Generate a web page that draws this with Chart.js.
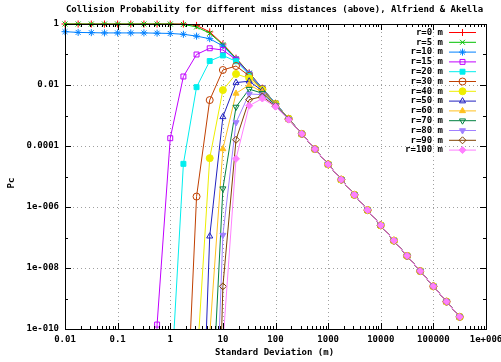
<!DOCTYPE html>
<html>
<head>
<meta charset="utf-8">
<script src="https://cdn.jsdelivr.net/npm/chart.js@4.4.1/dist/chart.umd.min.js"></script>
<style>
  html, body { margin: 0; padding: 0; background: #fff; }
  canvas { display: block; }
</style>
</head>
<body>
<canvas id="pcChart" width="501" height="362"></canvas>
<script>
// standard deviation (m), quarter-decade steps
const sigma = [0.01, 0.01778, 0.03162, 0.05623, 0.1, 0.1778, 0.3162, 0.5623, 1, 1.778,
  3.162, 5.623, 10, 17.78, 31.62, 56.23, 100, 177.8, 316.2, 562.3,
  1000, 1778, 3162, 5623, 10000, 17783, 31623, 56234, 100000, 177828, 316228];

const seriesLabels = ["r=0 m", "r=5 m", "r=10 m", "r=15 m", "r=20 m", "r=30 m", "r=40 m",
  "r=50 m", "r=60 m", "r=70 m", "r=80 m", "r=90 m", "r=100 m"];

// collision probability per miss distance (null = not plotted)
const pcR0 = [1, 1, 1, 1, 1, 1, 1, 1, 1, 1, 0.9, 0.55, 0.22, 0.076, 0.025, 0.0079, 0.0025, 7.9e-4,
  2.5e-4, 7.9e-5, 2.5e-5, 7.9e-6, 2.5e-6, 7.9e-7, 2.5e-7, 7.9e-8, 2.5e-8, 7.9e-9, 2.5e-9, 7.9e-10, 2.5e-10];
const pcR5 = [1, 1, 1, 1, 1, 1, 1, 1, 1, 0.97, 0.8, 0.5, 0.21, 0.074, 0.0245, 0.0078, 0.0025, 7.9e-4,
  2.5e-4, 7.9e-5, 2.5e-5, 7.9e-6, 2.5e-6, 7.9e-7, 2.5e-7, 7.9e-8, 2.5e-8, 7.9e-9, 2.5e-9, 7.9e-10, 2.5e-10];
const pcR10 = [0.56, 0.53, 0.52, 0.51, 0.51, 0.51, 0.51, 0.5, 0.49, 0.46, 0.4, 0.33, 0.19, 0.07, 0.024, 0.0077, 0.0025, 7.9e-4,
  2.5e-4, 7.9e-5, 2.5e-5, 7.9e-6, 2.5e-6, 7.9e-7, 2.5e-7, 7.9e-8, 2.5e-8, 7.9e-9, 2.5e-9, 7.9e-10, 2.5e-10];
const pcR15 = [null, null, null, null, null, null, 2e-29, 1.4e-10, 1.8e-4, 0.019, 0.1, 0.16, 0.14, 0.068, 0.023, 0.0077, 0.0025, 7.9e-4,
  2.5e-4, 7.9e-5, 2.5e-5, 7.9e-6, 2.5e-6, 7.9e-7, 2.5e-7, 7.9e-8, 2.5e-8, 7.9e-9, 2.5e-9, 7.9e-10, 2.5e-10];
const pcR20 = [null, null, null, null, null, null, null, null, 5.4e-13, 2.6e-5, 8.5e-3, 0.061, 0.093, 0.06, 0.022, 0.0076, 0.0025, 7.9e-4,
  2.5e-4, 7.9e-5, 2.5e-5, 7.9e-6, 2.5e-6, 7.9e-7, 2.5e-7, 7.9e-8, 2.5e-8, 7.9e-9, 2.5e-9, 7.9e-10, 2.5e-10];
const pcR30 = [null, null, null, null, null, null, null, null, null, 5.5e-16, 2.2e-6, 3.2e-3, 0.031, 0.042, 0.02, 0.0073, 0.0024, 7.8e-4,
  2.5e-4, 7.9e-5, 2.5e-5, 7.9e-6, 2.5e-6, 7.9e-7, 2.5e-7, 7.9e-8, 2.5e-8, 7.9e-9, 2.5e-9, 7.9e-10, 2.5e-10];
const pcR40 = [null, null, null, null, null, null, null, null, null, null, 5e-12, 4e-5, 6.8e-3, 0.023, 0.0166, 0.0069, 0.0024, 7.8e-4,
  2.5e-4, 7.9e-5, 2.5e-5, 7.9e-6, 2.5e-6, 7.9e-7, 2.5e-7, 7.9e-8, 2.5e-8, 7.9e-9, 2.5e-9, 7.9e-10, 2.5e-10];
const pcR50 = [null, null, null, null, null, null, null, null, null, null, 8.5e-20, 1.1e-7, 9e-4, 0.012, 0.0133, 0.0065, 0.00235, 7.75e-4,
  2.5e-4, 7.9e-5, 2.5e-5, 7.9e-6, 2.5e-6, 7.9e-7, 2.5e-7, 7.9e-8, 2.5e-8, 7.9e-9, 2.5e-9, 7.9e-10, 2.5e-10];
const pcR60 = [null, null, null, null, null, null, null, null, null, null, null, 6.4e-11, 8e-5, 5.3e-3, 0.0101, 0.0059, 0.0023, 7.7e-4,
  2.5e-4, 7.9e-5, 2.5e-5, 7.9e-6, 2.5e-6, 7.9e-7, 2.5e-7, 7.9e-8, 2.5e-8, 7.9e-9, 2.5e-9, 7.9e-10, 2.5e-10];
const pcR70 = [null, null, null, null, null, null, null, null, null, null, null, 8.4e-15, 4e-6, 1.9e-3, 0.0073, 0.0054, 0.0022, 7.6e-4,
  2.5e-4, 7.9e-5, 2.5e-5, 7.9e-6, 2.5e-6, 7.9e-7, 2.5e-7, 7.9e-8, 2.5e-8, 7.9e-9, 2.5e-9, 7.9e-10, 2.5e-10];
const pcR80 = [null, null, null, null, null, null, null, null, null, null, null, 2.5e-19, 1.2e-7, 5.9e-4, 0.0051, 0.0048, 0.0021, 7.5e-4,
  2.5e-4, 7.9e-5, 2.5e-5, 7.9e-6, 2.5e-6, 7.9e-7, 2.5e-7, 7.9e-8, 2.5e-8, 7.9e-9, 2.5e-9, 7.9e-10, 2.5e-10];
const pcR90 = [null, null, null, null, null, null, null, null, null, null, null, 1.4e-24, 2.5e-9, 1.6e-4, 0.0033, 0.0042, 0.002, 7.4e-4,
  2.5e-4, 7.9e-5, 2.5e-5, 7.9e-6, 2.5e-6, 7.9e-7, 2.5e-7, 7.9e-8, 2.5e-8, 7.9e-9, 2.5e-9, 7.9e-10, 2.5e-10];
const pcR100 = [null, null, null, null, null, null, null, null, null, null, null, null, 3.2e-11, 3.8e-5, 0.0021, 0.0036, 0.00195, 7.3e-4,
  2.5e-4, 7.9e-5, 2.5e-5, 7.9e-6, 2.5e-6, 7.9e-7, 2.5e-7, 7.9e-8, 2.5e-8, 7.9e-9, 2.5e-9, 7.9e-10, 2.5e-10];

const xTickValues = [0.01, 0.1, 1, 10, 100, 1000, 10000, 100000, 1000000];
const xTickLabels = ["0.01", "0.1", "1", "10", "100", "1000", "10000", "100000", "1e+006"];
const yTickValues = [1e-10, 1e-9, 1e-8, 1e-7, 1e-6, 1e-5, 1e-4, 1e-3, 1e-2, 1e-1, 1];
const yTickLabels = ["1e-010", "", "1e-008", "", "1e-006", "", "0.0001", "", "0.01", "", "1"];

const seriesValues = [pcR0, pcR5, pcR10, pcR15, pcR20, pcR30, pcR40, pcR50, pcR60, pcR70, pcR80, pcR90, pcR100];

// gnuplot-like line types
const seriesStyles = [
  { color: "#ff0000", shape: "cross", filled: false },
  { color: "#00c000", shape: "crossRot", filled: false },
  { color: "#0080ff", shape: "star", filled: false },
  { color: "#c000ff", shape: "rect", filled: false },
  { color: "#00eeee", shape: "rect", filled: true },
  { color: "#c04000", shape: "circle", filled: false },
  { color: "#eeee00", shape: "circle", filled: true },
  { color: "#2020c0", shape: "triangle", filled: false },
  { color: "#ffc020", shape: "triangle", filled: true },
  { color: "#008040", shape: "triangle", filled: false, rotation: 180 },
  { color: "#a080ff", shape: "triangle", filled: true, rotation: 180 },
  { color: "#804000", shape: "rectRot", filled: false },
  { color: "#ff80ff", shape: "rectRot", filled: true }
];

const FONT = "bold 9px 'DejaVu Sans Mono'";
const tickFont = { family: "DejaVu Sans Mono", size: 9, weight: "bold" };

const datasets = seriesValues.map((vals, i) => {
  const st = seriesStyles[i];
  return {
    label: seriesLabels[i],
    data: vals.map((v, k) => ({ x: sigma[k], y: v })),
    borderColor: st.color,
    backgroundColor: st.color,
    borderWidth: 1,
    pointStyle: st.shape,
    pointRotation: st.rotation || 0,
    pointRadius: 3.5,
    pointHoverRadius: 3.5,
    pointBorderWidth: 1,
    pointBorderColor: st.color,
    pointBackgroundColor: st.filled ? st.color : "rgba(0,0,0,0)",
    tension: 0,
    spanGaps: false,
    clip: { left: 5, top: 5, right: 5, bottom: 0 },
    order: seriesValues.length - i
  };
});

// grid, inward ticks and border like gnuplot
const gnuFrame = {
  id: "gnuFrame",
  beforeDatasetsDraw(chart) {
    const { ctx, chartArea: a, scales: { x, y } } = chart;
    ctx.save();
    ctx.strokeStyle = "#a0a0a0";
    ctx.lineWidth = 1;
    ctx.setLineDash([1, 3]);
    ctx.beginPath();
    xTickValues.forEach(v => {
      const px = Math.round(x.getPixelForValue(v)) + 0.5;
      if (px > a.left + 2 && px < a.right - 2) {
        ctx.moveTo(px, a.top);
        ctx.lineTo(px, a.bottom);
      }
    });
    yTickValues.forEach((v, i) => {
      if (!yTickLabels[i]) return;
      const py = Math.round(y.getPixelForValue(v)) + 0.5;
      if (py > a.top + 2 && py < a.bottom - 2) {
        ctx.moveTo(a.left, py);
        ctx.lineTo(a.right, py);
      }
    });
    ctx.stroke();
    ctx.restore();
  },
  afterDatasetsDraw(chart) {
    const { ctx, chartArea: a, scales: { x, y } } = chart;
    ctx.save();
    ctx.strokeStyle = "#000";
    ctx.lineWidth = 1;
    ctx.beginPath();
    xTickValues.forEach((v, i) => {
      const px = Math.round(x.getPixelForValue(v)) + 0.5;
      ctx.moveTo(px, a.bottom); ctx.lineTo(px, a.bottom - 6);
      ctx.moveTo(px, a.top); ctx.lineTo(px, a.top + 6);
      if (i < xTickValues.length - 1) {
        for (let m = 2; m <= 9; m++) {
          const mx = Math.round(x.getPixelForValue(v * m)) + 0.5;
          ctx.moveTo(mx, a.bottom); ctx.lineTo(mx, a.bottom - 3);
          ctx.moveTo(mx, a.top); ctx.lineTo(mx, a.top + 3);
        }
      }
    });
    yTickValues.forEach((v, i) => {
      const py = Math.round(y.getPixelForValue(v)) + 0.5;
      const len = yTickLabels[i] ? 6 : 3;
      ctx.moveTo(a.left, py); ctx.lineTo(a.left + len, py);
      ctx.moveTo(a.right, py); ctx.lineTo(a.right - len, py);
    });
    ctx.stroke();
    ctx.strokeRect(Math.round(a.left) + 0.5, Math.round(a.top) + 0.5,
      Math.round(a.right - a.left), Math.round(a.bottom - a.top));

    // key in the top right corner
    ctx.font = FONT;
    ctx.textAlign = "right";
    ctx.textBaseline = "middle";
    chart.data.datasets.forEach((ds, i) => {
      const ly = a.top + 8.5 + i * 9.8;
      const tx = a.right - 43;
      ctx.fillStyle = "#000";
      ctx.fillText(ds.label, tx, ly);
      ctx.strokeStyle = ds.borderColor;
      ctx.beginPath();
      ctx.moveTo(tx + 6, ly);
      ctx.lineTo(tx + 33, ly);
      ctx.stroke();
      ctx.fillStyle = ds.pointBackgroundColor;
      Chart.helpers.drawPoint(ctx, {
        pointStyle: ds.pointStyle, rotation: ds.pointRotation, radius: 3.5, borderWidth: 1
      }, tx + 19.5, ly);
    });
    ctx.restore();
  },
  afterDraw(chart) {
    const { ctx, chartArea: a } = chart;
    ctx.save();
    ctx.font = FONT;
    ctx.fillStyle = "#000";
    ctx.textAlign = "center";
    ctx.textBaseline = "middle";
    ctx.fillText("Collision Probability for different miss distances (above), Alfriend & Akella",
      (a.left + a.right) / 2 - 1, 9.5);
    ctx.fillText("Standard Deviation (m)", (a.left + a.right) / 2 - 1, 353);
    ctx.translate(12, 183);
    ctx.rotate(-Math.PI / 2);
    ctx.fillText("Pc", 0, 0);
    ctx.restore();
  }
};

new Chart(document.getElementById("pcChart"), {
  type: "line",
  data: { datasets },
  options: {
    responsive: false,
    animation: false,
    devicePixelRatio: 1,
    layout: { padding: { left: 0, right: 15, top: 24, bottom: 0 } },
    plugins: { legend: { display: false }, tooltip: { enabled: false }, title: { display: false } },
    scales: {
      x: {
        type: "logarithmic",
        min: 0.01,
        max: 1000000,
        afterBuildTicks: scale => { scale.ticks = xTickValues.map(v => ({ value: v })); },
        afterFit: scale => { scale.height = 33; scale.paddingLeft = 0; scale.paddingRight = 0; },
        grid: { display: false, drawTicks: false },
        border: { display: false },
        ticks: {
          autoSkip: false, maxRotation: 0, padding: 5, color: "#000", font: tickFont,
          callback: (value, index) => xTickLabels[index]
        }
      },
      y: {
        type: "logarithmic",
        min: 1e-10,
        max: 1,
        afterBuildTicks: scale => { scale.ticks = yTickValues.map(v => ({ value: v })); },
        afterFit: scale => { scale.width = 65; scale.paddingTop = 0; scale.paddingBottom = 0; },
        grid: { display: false, drawTicks: false },
        border: { display: false },
        ticks: {
          autoSkip: false, padding: 6, color: "#000", font: tickFont,
          callback: (value, index) => yTickLabels[index]
        }
      }
    }
  },
  plugins: [gnuFrame]
});
</script>
</body>
</html>
